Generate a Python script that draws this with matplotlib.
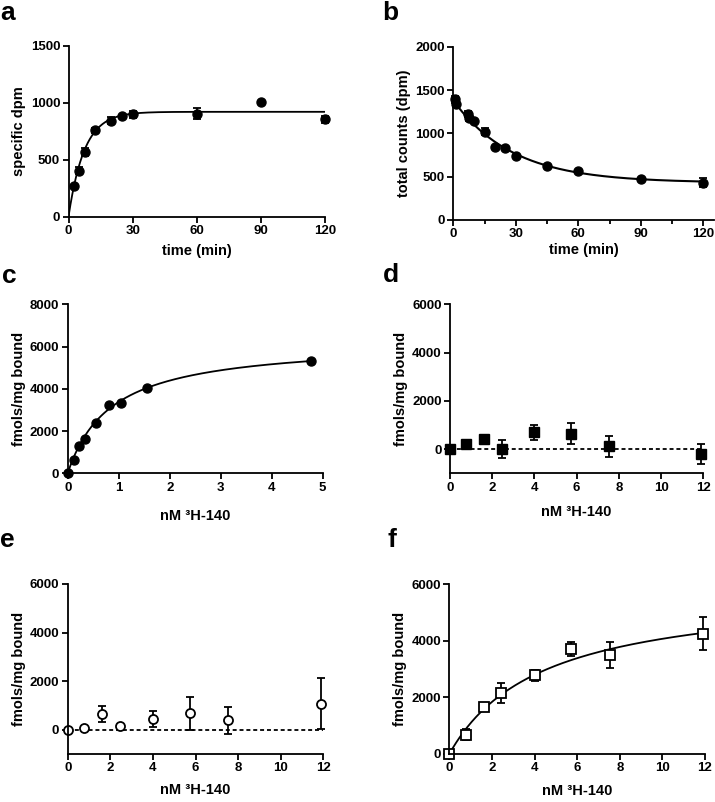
import numpy as np
import matplotlib
matplotlib.use("Agg")
import matplotlib.pyplot as plt

plt.rcParams['font.family'] = ['Liberation Sans', 'DejaVu Sans']
plt.rcParams['font.weight'] = 'bold'

# ---------------- data ----------------
# panel a: association
a_time = [2.5, 5, 7.5, 12.5, 20, 25, 30, 60, 90, 120]
a_dpm = [270, 405, 570, 757, 843, 884, 900, 905, 1010, 855]
a_err = [0, 30, 35, 25, 30, 0, 30, 45, 0, 30]
a_fit_ymax, a_fit_k = 920, 0.135

# panel b: dissociation
b_time = [1, 1.5, 7, 7.5, 10, 15, 20, 25, 30, 45, 60, 90, 120]
b_counts = [1395, 1335, 1220, 1175, 1142, 1020, 845, 826, 735, 625, 567, 473, 430]
b_err = [40, 30, 35, 30, 0, 40, 0, 0, 0, 0, 0, 0, 50]
b_fit_y0, b_fit_plateau, b_fit_k = 1380, 430, 0.035

# panel c: saturation
c_conc = [0, 0.117, 0.227, 0.33, 0.56, 0.81, 1.045, 1.56, 4.78]
c_bound = [0, 627, 1286, 1616, 2369, 3231, 3341, 4047, 5316]
c_fit_bmax, c_fit_kd = 6268, 0.856

# panels d, e, f: share concentrations
def_conc = [0, 0.77, 1.61, 2.44, 4.0, 5.72, 7.54, 11.9]
d_bound = [0, 207, 428, 0, 703, 648, 124, -207]
d_err = [0, 100, 120, 370, 317, 455, 434, 400]
e_bound = [0, 68, 649, 135, 446, 676, 392, 1068]
e_err = [0, 60, 338, 60, 338, 669, 561, 1054]
f_bound = [0, 677, 1662, 2148, 2777, 3703, 3501, 4250]
f_err = [0, 190, 120, 356, 184, 255, 463, 590]
f_fit_bmax, f_fit_kd = 5845, 4.35

xlabel_conc = "nM \u00b3H-140"
ylabel_bound = "fmols/mg bound"

# ---------------- layout ----------------
W, H = 715, 802
fig = plt.figure(figsize=(W / 100, H / 100), dpi=100)

def rect(l, r, t, b):
    return [l / W, 1 - b / H, (r - l) / W, (b - t) / H]

TICK_FS = 9.5
LAB_FS = 10.5

def style(ax):
    for s in ['top', 'right']:
        ax.spines[s].set_visible(False)
    for s in ['left', 'bottom']:
        ax.spines[s].set_linewidth(1.3)
    ax.tick_params(direction='out', length=4, width=1.3, labelsize=TICK_FS, pad=2)
    for lab in ax.get_xticklabels() + ax.get_yticklabels():
        lab.set_fontweight('bold')

ebkw = dict(ecolor='black', elinewidth=1.3, capsize=3, capthick=1.3, clip_on=False)

# panel a
ax = fig.add_axes(rect(68.5, 325, 45.7, 216.7))
t = np.linspace(0, 120, 400)
ax.plot(t, a_fit_ymax * (1 - np.exp(-a_fit_k * t)), color='black', lw=1.3)
ax.errorbar(a_time, a_dpm, yerr=a_err, fmt='o', color='black', ms=6.5, **ebkw)
ax.set_xlim(0, 120)
ax.set_ylim(0, 1500)
ax.set_xticks([0, 30, 60, 90, 120])
ax.set_yticks([0, 500, 1000, 1500])
ax.set_xlabel("time (min)", fontsize=LAB_FS, fontweight='bold', labelpad=5)
ax.set_ylabel("specific dpm", fontsize=LAB_FS, fontweight='bold', labelpad=3)
style(ax)

# panel b
ax = fig.add_axes(rect(453.3, 713.7, 46.7, 220))
t = np.linspace(0, 120, 400)
ax.plot(t, b_fit_plateau + (b_fit_y0 - b_fit_plateau) * np.exp(-b_fit_k * t), color='black', lw=1.5)
ax.errorbar(b_time, b_counts, yerr=b_err, fmt='o', color='black', ms=6.5, **ebkw)
ax.set_xlim(0, 125)
ax.set_ylim(0, 2000)
ax.set_xticks([0, 30, 60, 90, 120])
ax.set_xticks([15, 45, 75, 105], minor=True)
ax.set_yticks([0, 500, 1000, 1500, 2000])
ax.tick_params(axis='x', which='minor', direction='out', length=3, width=1.3)
ax.set_xlabel("time (min)", fontsize=LAB_FS, fontweight='bold', labelpad=2)
ax.set_ylabel("total counts (dpm)", fontsize=LAB_FS, fontweight='bold', labelpad=3)
style(ax)

# panel c
ax = fig.add_axes(rect(67.7, 322.7, 304.3, 473.3))
x = np.linspace(0, max(c_conc), 300)
ax.plot(x, c_fit_bmax * x / (c_fit_kd + x), color='black', lw=1.3)
ax.plot(c_conc, c_bound, 'o', color='black', ms=6.5, clip_on=False)
ax.set_xlim(0, 5)
ax.set_ylim(0, 8000)
ax.set_xticks([0, 1, 2, 3, 4, 5])
ax.set_yticks([0, 2000, 4000, 6000, 8000])
ax.set_xlabel(xlabel_conc, fontsize=LAB_FS, fontweight='bold', labelpad=11)
ax.set_ylabel(ylabel_bound, fontsize=LAB_FS, fontweight='bold', labelpad=3)
style(ax)

# panel d
ax = fig.add_axes(rect(450, 703.3, 304.3, 473.3))
ax.plot([0, 12], [0, 0], ls=(0, (2.2, 1.6)), color='black', lw=1.3)
ax.errorbar(def_conc, d_bound, yerr=d_err, fmt='s', color='black', ms=6.5, **ebkw)
ax.set_xlim(0, 12)
ax.set_ylim(-1000, 6000)
ax.set_xticks([0, 2, 4, 6, 8, 10, 12])
ax.set_yticks([0, 2000, 4000, 6000])
ax.set_xlabel(xlabel_conc, fontsize=LAB_FS, fontweight='bold', labelpad=8)
ax.set_ylabel(ylabel_bound, fontsize=LAB_FS, fontweight='bold', labelpad=3)
style(ax)

# panel e
ax = fig.add_axes(rect(67.7, 323.3, 584, 754))
ax.plot([0, 12], [0, 0], ls=(0, (2.2, 1.6)), color='black', lw=1.3)
ax.errorbar(def_conc, e_bound, yerr=e_err, fmt='o', color='black', mfc='white', mew=1.3,
            ms=6.5, **ebkw)
ax.set_xlim(0, 12)
ax.set_ylim(-1000, 6000)
ax.set_xticks([0, 2, 4, 6, 8, 10, 12])
ax.set_yticks([0, 2000, 4000, 6000])
ax.set_xlabel(xlabel_conc, fontsize=LAB_FS, fontweight='bold', labelpad=6)
ax.set_ylabel(ylabel_bound, fontsize=LAB_FS, fontweight='bold', labelpad=3)
style(ax)

# panel f
ax = fig.add_axes(rect(449.3, 705, 584.3, 754))
x = np.linspace(0, 12, 300)
ax.plot(x, f_fit_bmax * x / (f_fit_kd + x), color='black', lw=1.3)
ax.errorbar(def_conc, f_bound, yerr=f_err, fmt='s', color='black', mfc='white', mew=1.3,
            ms=6.5, **ebkw)
ax.set_xlim(0, 12)
ax.set_ylim(0, 6000)
ax.set_xticks([0, 2, 4, 6, 8, 10, 12])
ax.set_yticks([0, 2000, 4000, 6000])
ax.set_xlabel(xlabel_conc, fontsize=LAB_FS, fontweight='bold', labelpad=7)
ax.set_ylabel(ylabel_bound, fontsize=LAB_FS, fontweight='bold', labelpad=3)
style(ax)

# panel letters
letters = [('a', 0, 20), ('b', 382, 20), ('c', 2, 283), ('d', 383, 282), ('e', 0, 547), ('f', 388, 547)]
for txt, px, py in letters:
    fig.text(px / W, 1 - py / H, txt, fontsize=19, fontweight='bold', ha='left', va='baseline')

fig.savefig("out.png", dpi=100)
